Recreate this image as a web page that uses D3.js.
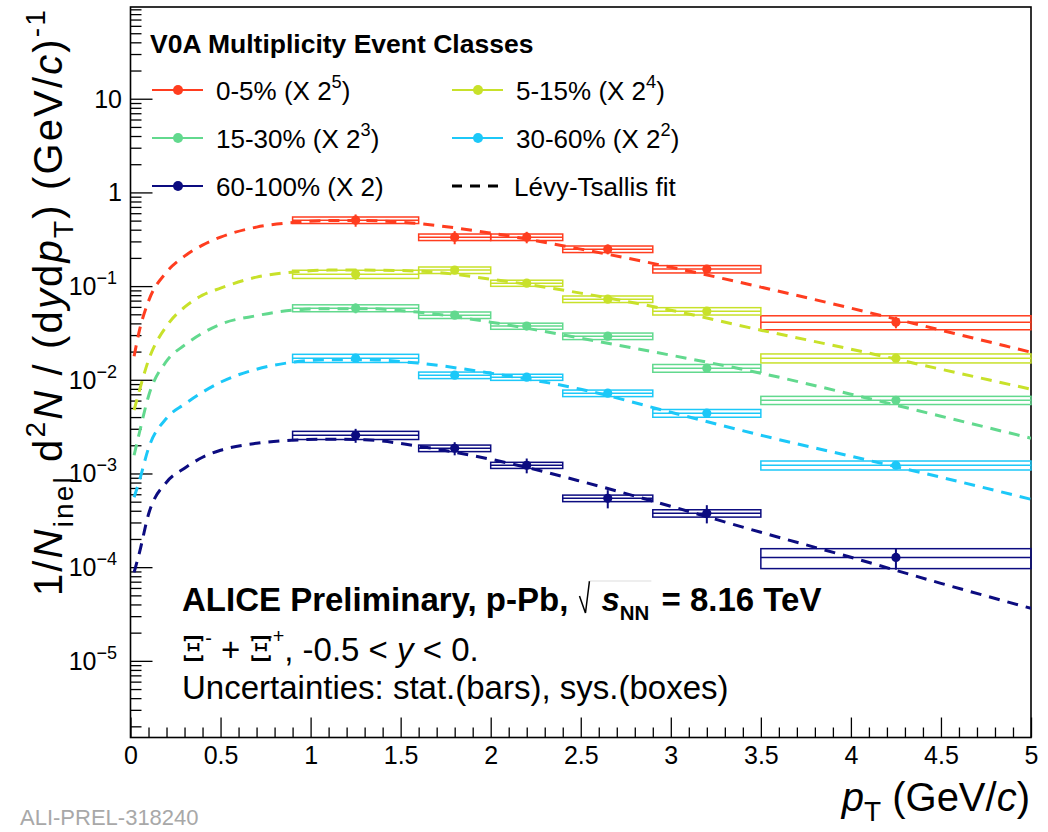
<!DOCTYPE html>
<html><head><meta charset="utf-8">
<script src="https://cdn.jsdelivr.net/npm/d3@7"></script>
<style>
body{margin:0;background:#fff}
text{font-family:"Liberation Sans",Arial,Helvetica,sans-serif;fill:#000}
</style>
</head><body>
<svg id="c" width="1048" height="832" xmlns="http://www.w3.org/2000/svg"></svg>
<script>
// ---------------- data ----------------
const ptCenters = [1.25, 1.8, 2.2, 2.65, 3.2, 4.25];
const binLow    = [0.9, 1.6, 2.0, 2.4, 2.9, 3.5];
const binHigh   = [1.6, 2.0, 2.4, 2.9, 3.5, 5.0];

const classNames = ["0-5%", "5-15%", "15-30%", "30-60%", "60-100%"];
const scaleExp   = ["5", "4", "3", "2", ""];
const colors     = ["#ff3d1f", "#c8e12a", "#62d98e", "#1cc8f8", "#0c0c80"];

const yield0_5    = [0.506, 0.333, 0.333, 0.248, 0.1518, 0.0412];
const yield5_15   = [0.1342, 0.1481, 0.1075, 0.0726, 0.0540, 0.0170];
const yield15_30  = [0.0582, 0.0490, 0.0374, 0.0292, 0.0133, 0.00605];
const yield30_60  = [0.0170, 0.01119, 0.01066, 0.00719, 0.00440, 0.001224];
const yield60_100 = [0.00256, 0.00186, 0.001224, 0.000544, 0.000376, 0.000127];

const sys0_5    = [0.08, 0.08, 0.08, 0.08, 0.09, 0.17];
const sys5_15   = [0.10, 0.08, 0.075, 0.08, 0.09, 0.11];
const sys15_30  = [0.085, 0.08, 0.075, 0.08, 0.095, 0.10];
const sys30_60  = [0.10, 0.08, 0.075, 0.08, 0.095, 0.11];
const sys60_100 = [0.10, 0.08, 0.075, 0.08, 0.09, 0.24];

const stat0_5    = [0.15, 0.16, 0.14, 0.12, 0.06, 0.14];
const stat5_15   = [0.13, 0.08, 0.06, 0.06, 0.06, 0.08];
const stat15_30  = [0.12, 0.07, 0.06, 0.06, 0.06, 0.08];
const stat30_60  = [0.07, 0.08, 0.06, 0.06, 0.06, 0.08];
const stat60_100 = [0.17, 0.16, 0.18, 0.22, 0.22, 0.26];

// Levy-Tsallis fit curves
const fitPt = [0.02, 0.05, 0.1, 0.2, 0.3, 0.4, 0.5, 0.7, 0.9, 1.1, 1.3, 1.6, 2.0, 2.5, 3.0, 3.5, 4.0, 4.5, 5.0];
const fit0_5    = [0.01786, 0.03386, 0.06909, 0.1410, 0.2089, 0.2738, 0.3333, 0.4263, 0.4763, 0.5003, 0.5003, 0.4645, 0.3679, 0.2481, 0.1594, 0.09747, 0.05815, 0.03386, 0.01971];
const fit5_15   = [0.004734, 0.007741, 0.01619, 0.03736, 0.05962, 0.08004, 0.0951, 0.1247, 0.1410, 0.1481, 0.1481, 0.1445, 0.1187, 0.08411, 0.05535, 0.03386, 0.02122, 0.01297, 0.007932];
const fit15_30  = [0.001565, 0.002755, 0.00668, 0.0158, 0.02342, 0.03146, 0.03924, 0.04836, 0.05535, 0.05745, 0.05745, 0.05271, 0.04122, 0.02781, 0.0183, 0.01176, 0.007018, 0.004084, 0.002378];
const fit30_60  = [0.0005572, 0.0008464, 0.001859, 0.003889, 0.005487, 0.00737, 0.009425, 0.01297, 0.01541, 0.01639, 0.01639, 0.01504, 0.01176, 0.007932, 0.004507, 0.00256, 0.001527, 0.0009112, 0.0005305];
const fit60_100 = [0.0000881, 0.0001441, 0.0003667, 0.0008057, 0.001137, 0.00149, 0.00177, 0.002102, 0.002263, 0.00232, 0.002292, 0.001953, 0.001419, 0.0008258, 0.0004466, 0.0002356, 0.0001274, 0.00006722, 0.00003634];

const xTickLabels = ["0", "0.5", "1", "1.5", "2", "2.5", "3", "3.5", "4", "4.5", "5"];
const yDecades = [-5, -4, -3, -2, -1, 0, 1];

// ---------------- layout ----------------
const yields = [yield0_5, yield5_15, yield15_30, yield30_60, yield60_100];
const syss = [sys0_5, sys5_15, sys15_30, sys30_60, sys60_100];
const stats = [stat0_5, stat5_15, stat15_30, stat30_60, stat60_100];
const fits = [fit0_5, fit5_15, fit15_30, fit30_60, fit60_100];

const L = 130.5, R = 1031, T = 7, B = 737.5;
const svg = d3.select("#c");
const x = d3.scaleLinear().domain([0, 5]).range([L, R]);
const y = d3.scaleLog().domain([1.52e-6, 95.3]).range([B, T]);

svg.append("rect").attr("width", 1048).attr("height", 832).attr("fill", "#fff");
svg.append("clipPath").attr("id", "clip").append("rect")
  .attr("x", L).attr("y", T).attr("width", R - L).attr("height", B - T);

// rich text helper
function rich(sel, parts, size) {
  let shift = 0;
  parts.forEach(p => {
    const ts = sel.append("tspan").text(p.t);
    let target = 0, fs = size;
    if (p.sup) { target = -(p.up || 0.42) * size; fs = (p.s || 0.7) * size; }
    if (p.sub) { target = (p.down || 0.28) * size; fs = (p.s || 0.7) * size; }
    ts.attr("dy", target - shift);
    shift = target;
    ts.attr("font-size", fs);
    if (p.i) ts.attr("font-style", "italic");
    if (p.b) ts.attr("font-weight", "bold");
    if (p.dx) ts.attr("dx", p.dx);
    if (p.f) ts.attr("font-family", p.f);
  });
  return sel;
}

// ---------------- axes (ticks inside) ----------------
const xMinor = d3.range(0, 51).filter(i => i % 5 !== 0).map(i => i / 10);
const xMajor = d3.range(0, 11).map(i => i / 2);
const yMinor = [], yMajor = [];
for (let e = -6; e <= 1; e++) for (let k = 1; k <= 9; k++) {
  const v = k * Math.pow(10, e);
  if (v >= 1.52e-6 && v <= 95.3) (k === 1 ? yMajor : yMinor).push(v);
}
function styleAxis(g) {
  g.select(".domain").remove();
  g.selectAll(".tick line").attr("stroke", "#000").attr("stroke-width", 1.3);
}
svg.append("g").attr("transform", `translate(0,${B})`)
  .call(d3.axisBottom(x).tickValues(xMinor).tickSize(-10).tickFormat("")).call(styleAxis);
svg.append("g").attr("transform", `translate(0,${B})`)
  .call(d3.axisBottom(x).tickValues(xMajor).tickSize(-20).tickPadding(9)
    .tickFormat((d, i) => xTickLabels[i])).call(styleAxis)
  .selectAll("text").attr("font-size", 25).attr("font-family", "Liberation Sans, Arial, sans-serif").attr("fill", "#000");
svg.append("g").attr("transform", `translate(${L},0)`)
  .call(d3.axisLeft(y).tickValues(yMinor).tickSize(-11).tickFormat("")).call(styleAxis);
svg.append("g").attr("transform", `translate(${L},0)`)
  .call(d3.axisLeft(y).tickValues(yMajor).tickSize(-22).tickFormat("")).call(styleAxis);

// y labels
yDecades.forEach(e => {
  const t = svg.append("text").attr("y", y(Math.pow(10, e)) + 9)
    .attr("text-anchor", "end").attr("font-size", 25);
  if (e === 0) t.attr("x", 122).text("1");
  else if (e === 1) t.attr("x", 122).text("10");
  else { t.attr("x", 117); rich(t, [{t: "10"}, {t: "\u2212" + (-e), sup: true, up: 0.45, s: 0.72}], 25); }
});

// frame
svg.append("rect").attr("x", L).attr("y", T).attr("width", R - L).attr("height", B - T)
  .attr("fill", "none").attr("stroke", "#000").attr("stroke-width", 1.6);

// ---------------- data ----------------
const plot = svg.append("g");
yields.forEach((ys, s) => {
  const c = colors[s];
  const g = plot.append("g").attr("stroke", c).attr("fill", "none").attr("stroke-width", 1.5);
  ys.forEach((v, i) => {
    const top = y(v * (1 + syss[s][i])), bot = y(v * (1 - syss[s][i]));
    g.append("rect").attr("x", x(binLow[i])).attr("y", top)
      .attr("width", x(binHigh[i]) - x(binLow[i])).attr("height", bot - top);
    g.append("line").attr("x1", x(binLow[i])).attr("x2", x(binHigh[i]))
      .attr("y1", y(v)).attr("y2", y(v));
  });
});
const line = d3.line().x((d, i) => x(fitPt[i])).y(d => y(d)).curve(d3.curveMonotoneX);
const fitG = plot.append("g").attr("clip-path", "url(#clip)");
fits.forEach((f, s) => {
  fitG.append("path").attr("d", line(f)).attr("fill", "none")
    .attr("stroke", colors[s]).attr("stroke-width", 3).attr("stroke-dasharray", "11,8");
});
yields.forEach((ys, s) => {
  const c = colors[s];
  const g = plot.append("g");
  ys.forEach((v, i) => {
    g.append("line").attr("x1", x(ptCenters[i])).attr("x2", x(ptCenters[i]))
      .attr("y1", y(v * (1 + stats[s][i]))).attr("y2", y(v * (1 - stats[s][i])))
      .attr("stroke", c).attr("stroke-width", 2);
    g.append("circle").attr("cx", x(ptCenters[i])).attr("cy", y(v)).attr("r", 4.6).attr("fill", c);
  });
});

// ---------------- legend ----------------
svg.append("text").attr("x", 150).attr("y", 53).attr("font-size", 26.5).attr("font-weight", "bold")
  .text("V0A Multiplicity Event Classes");
const legPos = [[0, 0], [1, 0], [0, 1], [1, 1], [0, 2]];
const colX = [152, 452], rowY = [90, 138, 186];
classNames.forEach((n, s) => {
  const [cI, rI] = legPos[s];
  const lx = colX[cI], ly = rowY[rI];
  svg.append("line").attr("x1", lx).attr("x2", lx + 51).attr("y1", ly).attr("y2", ly)
    .attr("stroke", colors[s]).attr("stroke-width", 1.8);
  svg.append("circle").attr("cx", lx + 26).attr("cy", ly).attr("r", 5).attr("fill", colors[s]);
  const t = svg.append("text").attr("x", lx + 64).attr("y", ly + 9.5).attr("font-size", 26);
  if (scaleExp[s]) rich(t, [{t: n + " (X 2"}, {t: scaleExp[s], sup: true, up: 0.45}, {t: ")"}], 26);
  else t.text(n + " (X 2)");
});
svg.append("line").attr("x1", 452).attr("x2", 503).attr("y1", 186).attr("y2", 186)
  .attr("stroke", "#000").attr("stroke-width", 3).attr("stroke-dasharray", "10,8");
svg.append("text").attr("x", 514).attr("y", 195.5).attr("font-size", 26).text("L\u00e9vy-Tsallis fit");

// ---------------- annotations ----------------
const t1 = svg.append("text").attr("x", 182).attr("y", 611).attr("font-size", 33).attr("font-weight", "bold");
rich(t1, [{t: "ALICE Preliminary, p-Pb, "}, {t: "s", i: true, dx: 24}, {t: "NN", sub: true, s: 0.62},
          {t: " = 8.16 TeV", dx: 3}], 33);
(function () {
  const node = t1.node();
  const idx = node.textContent.indexOf("s", 24);
  const a = node.getStartPositionOfChar(idx);
  const sx = a.x, b = 611;
  svg.append("path").attr("d", `M${sx - 22},${b - 15} L${sx - 16},${b + 2} L${sx - 12},${b - 30}`)
    .attr("fill", "none").attr("stroke", "#000").attr("stroke-width", 1.5);
  const e = node.getEndPositionOfChar(idx + 2);
  svg.append("line").attr("x1", sx - 12).attr("x2", e.x + 2).attr("y1", b - 30).attr("y2", b - 30)
    .attr("stroke", "#ddd").attr("stroke-width", 1.2);
})();

const t2 = svg.append("text").attr("x", 182).attr("y", 661).attr("font-size", 33);
rich(t2, [{t: "\u039e", f: "DejaVu Serif", s: 0.85}, {t: "-", sup: true, up: 0.5, s: 0.6}, {t: " + "},
          {t: "\u039e", f: "DejaVu Serif", s: 0.85}, {t: "+", sup: true, up: 0.55, s: 0.6}, {t: ", -0.5 < "}, {t: "y", i: true}, {t: " < 0."}], 33);
(function () {
  const node = t2.node();
  const idx = node.textContent.indexOf("\u039e", 1);
  const a = node.getStartPositionOfChar(idx), b = node.getEndPositionOfChar(idx);
  svg.append("line").attr("x1", a.x + 1).attr("x2", b.x - 1).attr("y1", 637).attr("y2", 637)
    .attr("stroke", "#000").attr("stroke-width", 1.2);
})();
svg.append("text").attr("x", 182).attr("y", 699).attr("font-size", 33)
  .text("Uncertainties: stat.(bars), sys.(boxes)");

// axis titles
const yt = svg.append("text").attr("transform", "translate(62,8) rotate(-90)")
  .attr("text-anchor", "end").attr("font-size", 40);
rich(yt, [{t: "1/"}, {t: "N", i: true}, {t: "inel", sub: true}, {t: " d"}, {t: "2", sup: true},
          {t: "N", i: true}, {t: " / (d"}, {t: "y", i: true}, {t: "d"}, {t: "p", i: true}, {t: "T", sub: true},
          {t: ") (GeV/"}, {t: "c", i: true}, {t: ")"}, {t: "-1", sup: true}], 40);
(function () {
  const node = yt.node();
  const len = node.getComputedTextLength();
  const n = node.textContent.length;
  const target = 588;
  if (len < target) yt.selectAll("tspan").attr("letter-spacing", ((target - len) / n).toFixed(2));
})();
const xt = svg.append("text").attr("x", 1030).attr("y", 811).attr("text-anchor", "end").attr("font-size", 40);
rich(xt, [{t: "p", i: true}, {t: "T", sub: true, down: 0.25}, {t: " (GeV/"}, {t: "c", i: true}, {t: ")"}], 40);

svg.append("text").attr("x", 20).attr("y", 825).attr("font-size", 22)
  .attr("font-family", "Liberation Mono, Courier New, monospace")
  .style("fill", "#a8a8a8").text("ALI-PREL-318240");
</script>
</body></html>
